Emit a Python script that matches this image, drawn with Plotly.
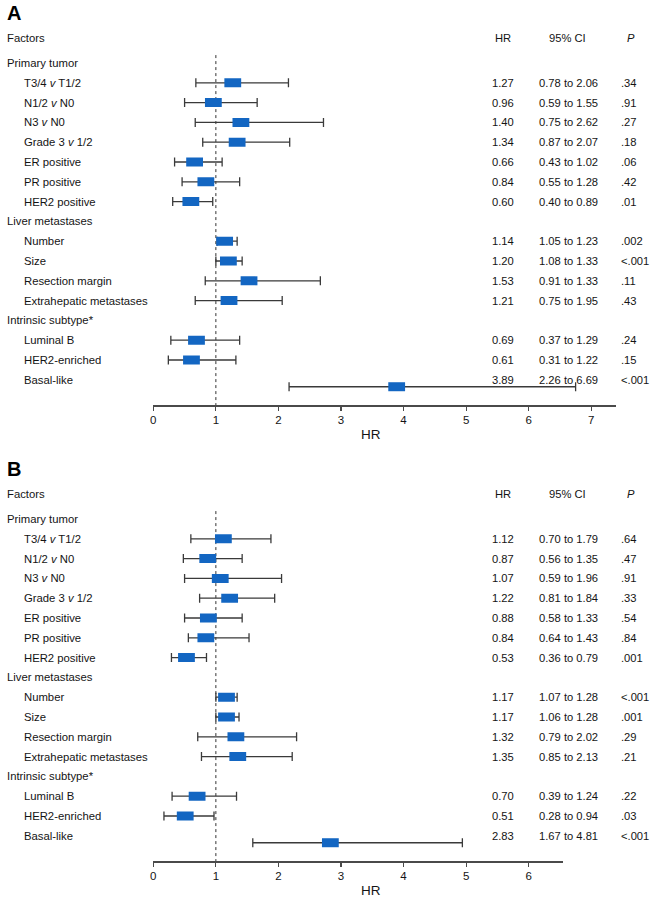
import plotly.graph_objects as go

# ---------------- data ----------------
groups = ["Primary tumor", "Liver metastases", "Intrinsic subtype*"]
group_items = [
    ["T3/4 <i>v</i> T1/2", "N1/2 <i>v</i> N0", "N3 <i>v</i> N0", "Grade 3 <i>v</i> 1/2",
     "ER positive", "PR positive", "HER2 positive"],
    ["Number", "Size", "Resection margin", "Extrahepatic metastases"],
    ["Luminal B", "HER2-enriched", "Basal-like"],
]

# Panel A (printed table values)
a_hr = [1.27, 0.96, 1.40, 1.34, 0.66, 0.84, 0.60, 1.14, 1.20, 1.53, 1.21, 0.69, 0.61, 3.89]
a_ci_lo = [0.78, 0.59, 0.75, 0.87, 0.43, 0.55, 0.40, 1.05, 1.08, 0.91, 0.75, 0.37, 0.31, 2.26]
a_ci_hi = [2.06, 1.55, 2.62, 2.07, 1.02, 1.28, 0.89, 1.23, 1.33, 1.33, 1.95, 1.29, 1.22, 6.69]
a_p = [".34", ".91", ".27", ".18", ".06", ".42", ".01", ".002", "<.001", ".11", ".43", ".24", ".15", "<.001"]
# Panel A (interval ends as drawn in the figure)
a_bar_lo = [0.68, 0.50, 0.67, 0.79, 0.34, 0.46, 0.31, 1.02, 1.00, 0.83, 0.67, 0.28, 0.24, 2.17]
a_bar_hi = [2.16, 1.66, 2.72, 2.18, 1.10, 1.38, 0.95, 1.34, 1.42, 2.67, 2.06, 1.38, 1.32, 6.75]

# Panel B (printed table values)
b_hr = [1.12, 0.87, 1.07, 1.22, 0.88, 0.84, 0.53, 1.17, 1.17, 1.32, 1.35, 0.70, 0.51, 2.83]
b_ci_lo = [0.70, 0.56, 0.59, 0.81, 0.58, 0.64, 0.36, 1.07, 1.06, 0.79, 0.85, 0.39, 0.28, 1.67]
b_ci_hi = [1.79, 1.35, 1.96, 1.84, 1.33, 1.43, 0.79, 1.28, 1.28, 2.02, 2.13, 1.24, 0.94, 4.81]
b_p = [".64", ".47", ".91", ".33", ".54", ".84", ".001", "<.001", ".001", ".29", ".21", ".22", ".03", "<.001"]
# Panel B (interval ends as drawn in the figure)
b_bar_lo = [0.60, 0.48, 0.50, 0.74, 0.50, 0.56, 0.29, 1.00, 1.00, 0.71, 0.77, 0.30, 0.17, 1.59]
b_bar_hi = [1.88, 1.42, 2.05, 1.94, 1.42, 1.53, 0.85, 1.34, 1.37, 2.29, 2.22, 1.33, 0.97, 4.94]

a_ticks = [0, 1, 2, 3, 4, 5, 6, 7]
b_ticks = [0, 1, 2, 3, 4, 5, 6]

# ---------------- layout helpers ----------------
W, H = 657, 900
FONT = "Liberation Sans, Arial, sans-serif"
TXT = "#141414"
BLUE = "#1366c2"
GREY = "#3a3a3a"
ROW_PX = 19.8
LBL_SIZE = 11.3
TAB_SIZE = 11.2
basal_shift = {"Basal-like": 0.35}

# row layout: headers and items
rows_header, rows_item, item_labels = [], [], []
r = 0
for g, items in zip(groups, group_items):
    rows_header.append((r, g))
    r += 1
    for it in items:
        rows_item.append(r)
        item_labels.append(it)
        r += 1

fig = go.Figure()
annotations = []
shapes = []


def panel(idx, letter, top_px, hr, ci_lo, ci_hi, p, bar_lo, bar_hi, ticks, xmax):
    xa = "x" if idx == 1 else "x2"
    ya = "y" if idx == 1 else "y2"
    first_row_px = top_px + 63          # "Primary tumor" row
    axis_px = top_px + 405              # x axis line
    dom_top_px = top_px + 28
    yr = [(axis_px - first_row_px) / ROW_PX, (dom_top_px - first_row_px) / ROW_PX]

    ys = [rr + basal_shift.get(lbl, 0) for rr, lbl in zip(rows_item, item_labels)]
    fig.add_trace(go.Scatter(
        x=hr, y=ys, xaxis=xa, yaxis=ya, mode="markers", showlegend=False,
        marker=dict(symbol="line-ew", size=12, color=BLUE,
                    line=dict(width=9, color=BLUE)),
        error_x=dict(type="data", symmetric=False,
                     array=[h - v for h, v in zip(bar_hi, hr)],
                     arrayminus=[v - l for v, l in zip(hr, bar_lo)],
                     color=GREY, thickness=1.3, width=4.5),
        hoverinfo="skip",
    ))

    xdom = [151 / W, (151 + xmax * 62.85) / W]
    ydom = [1 - axis_px / H, 1 - dom_top_px / H]
    axis_x = dict(domain=xdom, range=[0, xmax], anchor=ya, showline=True,
                  linecolor="#4a4a4a", linewidth=1.5, ticks="outside", ticklen=4,
                  tickwidth=1.2, tickcolor="#4a4a4a", tickvals=ticks,
                  showgrid=False, zeroline=False,
                  tickfont=dict(family=FONT, size=11.5, color=TXT))
    axis_y = dict(domain=ydom, range=yr, anchor=xa, visible=False,
                  showgrid=False, zeroline=False)
    if idx == 1:
        fig.update_layout(xaxis=axis_x, yaxis=axis_y)
    else:
        fig.update_layout(xaxis2=axis_x, yaxis2=axis_y)

    shapes.append(dict(type="line", xref=xa, yref=ya, x0=1, x1=1, y0=-0.4, y1=yr[0],
                       line=dict(color="#333333", width=1, dash="dot"), layer="below"))

    def txt(x, y, s, anchor="left", size=LBL_SIZE, yref=ya, xref="paper"):
        annotations.append(dict(x=x, y=y, xref=xref, yref=yref, text=s, showarrow=False,
                                xanchor=anchor, yanchor="middle",
                                font=dict(family=FONT, size=size, color=TXT)))

    # panel letter
    annotations.append(dict(x=2 / W, y=1 - (top_px + 13) / H, xref="paper", yref="paper",
                            text="<b>" + letter + "</b>", showarrow=False,
                            xanchor="left", yanchor="middle",
                            font=dict(family=FONT, size=20, color="#000000")))
    # headers
    hdr_row = (top_px + 38 - first_row_px) / ROW_PX
    txt(2 / W, hdr_row, "Factors")
    txt(502 / W, hdr_row, "HR", anchor="center", size=TAB_SIZE)
    txt(567 / W, hdr_row, "95% CI", anchor="center", size=TAB_SIZE)
    txt(631 / W, hdr_row, "<i>P</i>", anchor="center", size=TAB_SIZE)
    for rr, g in rows_header:
        txt(2 / W, rr, g)
    for rr, lbl, h, lo, hi, pv in zip(rows_item, item_labels, hr, ci_lo, ci_hi, p):
        txt(19 / W, rr, lbl)
        txt(502 / W, rr, f"{h:.2f}", anchor="center", size=TAB_SIZE)
        txt(568 / W, rr, f"{lo:.2f} to {hi:.2f}", anchor="center", size=TAB_SIZE)
        txt(619 / W, rr, pv, anchor="left", size=TAB_SIZE)
    # x axis title
    annotations.append(dict(x=370 / W, y=1 - (axis_px + 29) / H, xref="paper", yref="paper",
                            text="HR", showarrow=False, xanchor="center", yanchor="middle",
                            font=dict(family=FONT, size=13.5, color=TXT)))


panel(1, "A", 0, a_hr, a_ci_lo, a_ci_hi, a_p, a_bar_lo, a_bar_hi, a_ticks, 7.4)
panel(2, "B", 456, b_hr, b_ci_lo, b_ci_hi, b_p, b_bar_lo, b_bar_hi, b_ticks, 6.55)

fig.update_layout(width=W, height=H, margin=dict(l=0, r=0, t=0, b=0, pad=0),
                  paper_bgcolor="white", plot_bgcolor="white",
                  annotations=annotations, shapes=shapes, showlegend=False,
                  font=dict(family=FONT, color=TXT))

fig.write_html("out.html",
               config={"displayModeBar": False, "staticPlot": True},
               post_script="document.body.style.margin='0';document.body.style.overflow='hidden';")
